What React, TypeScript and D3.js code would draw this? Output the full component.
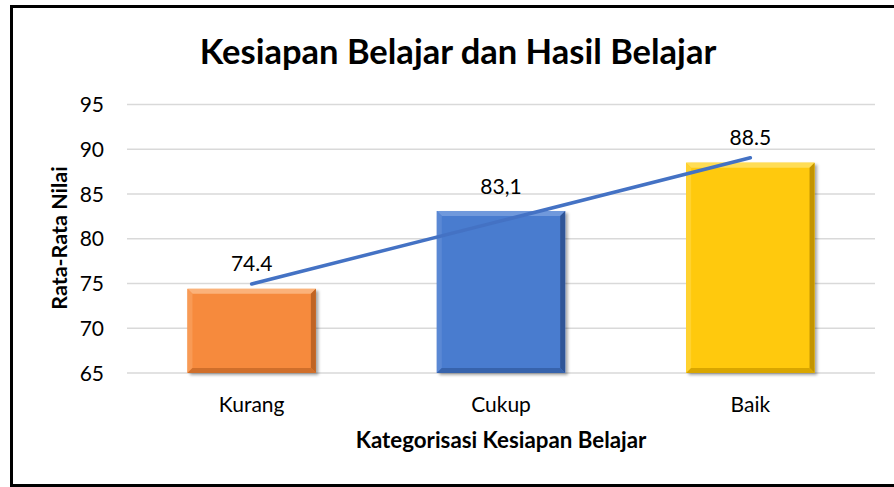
import React from "react";
import * as d3 from "d3";

const categories = ["Kurang", "Cukup", "Baik"];
const values = [74.4, 83.1, 88.5];
const valueLabels = ["74.4", "83,1", "88.5"];
const yTicks = [65, 70, 75, 80, 85, 90, 95];
const barColors = [
  { base: "#F68A3C", top: "#FBB27A", left: "#F89A55", right: "#BF6424", bottom: "#D06F2B" },
  { base: "#4A7CCF", top: "#7099DC", left: "#5A88D4", right: "#2F5597", bottom: "#3763AC" },
  { base: "#FFC90A", top: "#FFDD55", left: "#FFD230", right: "#C39400", bottom: "#D9A600" },
];

const W = 894;
const H = 487;
const FONT = "Lato, 'Open Sans', 'Noto Sans', sans-serif";

export default function App() {
  const x = d3.scaleBand<string>().domain(categories).range([127, 875]).padding(0);
  const y = d3.scaleLinear().domain([65, 95]).range([373, 104.5]);
  const barW = x.bandwidth() * 0.515;
  const bev = 5;

  // linear trendline computed from data
  const n = values.length;
  const xs = values.map((_, i) => i + 1);
  const mx = d3.mean(xs) as number;
  const my = d3.mean(values) as number;
  const slope =
    d3.sum(xs.map((xi, i) => (xi - mx) * (values[i] - my))) /
    d3.sum(xs.map((xi) => (xi - mx) * (xi - mx)));
  const intercept = my - slope * mx;
  const cx = (i: number) => (x(categories[i]) as number) + x.bandwidth() / 2;
  const trend = d3
    .line<number>()
    .x((i) => cx(i))
    .y((i) => y(intercept + slope * (i + 1)));

  return (
    <svg
      width={W}
      height={H}
      style={{ position: "absolute", left: 0, top: 0, display: "block", background: "#fff" }}
    >
      <defs>
        <filter id="shadow" x="-10%" y="-10%" width="130%" height="130%">
          <feDropShadow dx="2.5" dy="2" stdDeviation="1.8" floodColor="#000" floodOpacity="0.35" />
        </filter>
      </defs>
      <rect x={0} y={0} width={W} height={H} fill="#fff" />
      {/* gridlines */}
      {yTicks.map((t) => (
        <line key={t} x1={127} x2={875} y1={y(t)} y2={y(t)} stroke="#D9D9D9" strokeWidth={1.3} />
      ))}
      {/* y tick labels */}
      {yTicks.map((t) => (
        <text
          key={"l" + t}
          x={104}
          y={y(t) + 7.5}
          textAnchor="end"
          fontFamily={FONT}
          fontSize={21}
          fill="#000"
        >
          {t}
        </text>
      ))}
      {/* bars */}
      {values.map((v, i) => {
        const x0 = cx(i) - barW / 2;
        const x1 = cx(i) + barW / 2;
        const y0 = y(v);
        const y1 = y(65);
        const c = barColors[i];
        const b = bev;
        const pts = (a: number[][]) => a.map((p) => p.join(",")).join(" ");
        return (
          <g key={categories[i]}>
            <rect x={x0} y={y0} width={x1 - x0} height={y1 - y0} fill={c.base} filter="url(#shadow)" />
            <polygon points={pts([[x0, y0], [x1, y0], [x1 - b, y0 + b], [x0 + b, y0 + b]])} fill={c.top} />
            <polygon points={pts([[x0, y0], [x0 + b, y0 + b], [x0 + b, y1 - b], [x0, y1]])} fill={c.left} />
            <polygon points={pts([[x1, y0], [x1, y1], [x1 - b, y1 - b], [x1 - b, y0 + b]])} fill={c.right} />
            <polygon points={pts([[x0, y1], [x0 + b, y1 - b], [x1 - b, y1 - b], [x1, y1]])} fill={c.bottom} />
          </g>
        );
      })}
      {/* trendline */}
      <path d={trend(d3.range(n)) as string} fill="none" stroke="#4472C4" strokeWidth={3.5} strokeLinecap="round" />
      {/* data labels */}
      {values.map((v, i) => (
        <text
          key={"d" + i}
          x={cx(i)}
          y={y(v) - 17.5}
          textAnchor="middle"
          fontFamily={FONT}
          fontSize={21}
          fill="#000"
        >
          {valueLabels[i]}
        </text>
      ))}
      {/* x labels */}
      {categories.map((c, i) => (
        <text key={"x" + c} x={cx(i)} y={412} textAnchor="middle" fontFamily={FONT} fontSize={21} fill="#000">
          {c}
        </text>
      ))}
      {/* axis titles */}
      <text x={501} y={448} textAnchor="middle" fontFamily={FONT} fontSize={22.3} fontWeight="bold" fill="#000">
        Kategorisasi Kesiapan Belajar
      </text>
      <text
        transform={`translate(67,238) rotate(-90)`}
        textAnchor="middle"
        fontFamily={FONT}
        fontSize={21.5}
        fontWeight="bold"
        fill="#000"
      >
        Rata-Rata Nilai
      </text>
      {/* title */}
      <text x={458} y={64} textAnchor="middle" fontFamily={FONT} fontSize={34.5} fontWeight="bold" fill="#000">
        Kesiapan Belajar dan Hasil Belajar
      </text>
      {/* border */}
      <path d={`M ${W + 5} 6.5 H 11.5 V 485.5 H ${W + 5}`} fill="none" stroke="#000" strokeWidth={3} />
    </svg>
  );
}
